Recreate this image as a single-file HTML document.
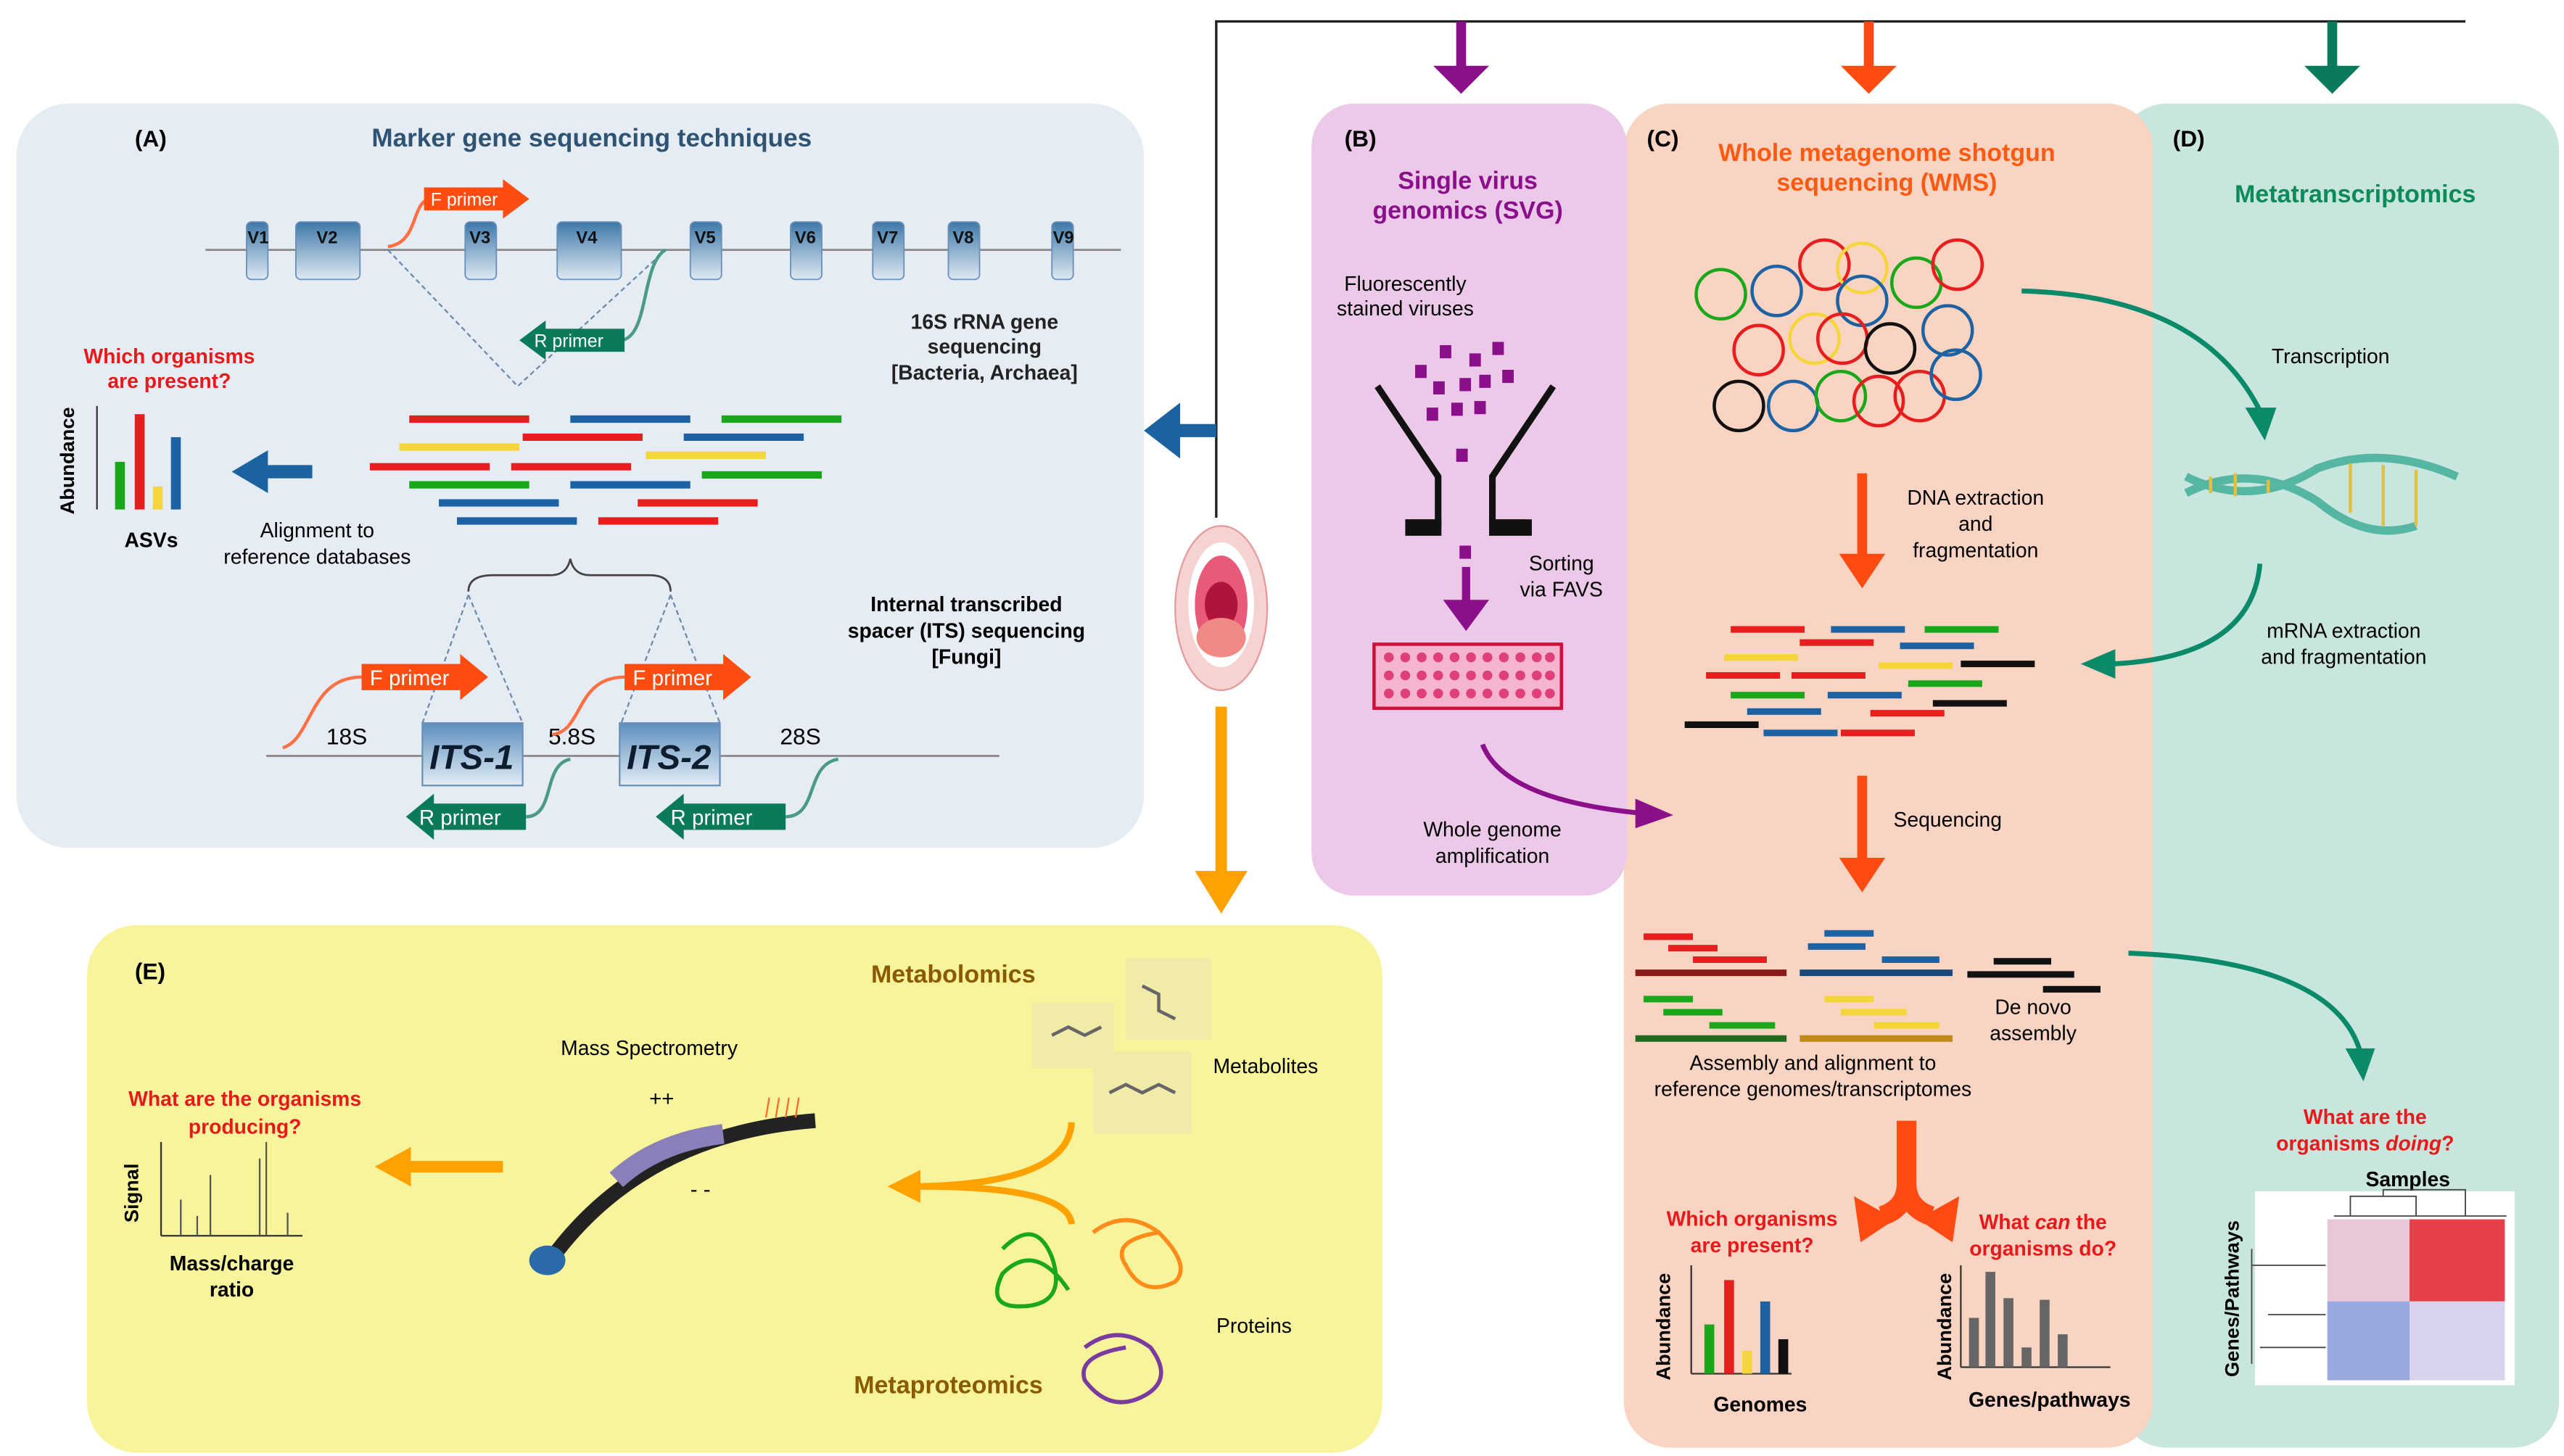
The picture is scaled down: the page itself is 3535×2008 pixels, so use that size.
<!DOCTYPE html>
<html><head><meta charset="utf-8"><style>
html,body{margin:0;padding:0;background:#fff}
svg{display:block}
text{font-family:"Liberation Sans",sans-serif}
</style></head><body>
<svg width="3535" height="2008" viewBox="0 0 1560 886" xmlns="http://www.w3.org/2000/svg">
<defs>
<linearGradient id="bx" x1="0" y1="0" x2="0" y2="1"><stop offset="0" stop-color="#3d78a8"/><stop offset="1" stop-color="#dfe9f3"/></linearGradient>
<linearGradient id="its" x1="0" y1="0" x2="0" y2="1"><stop offset="0" stop-color="#5d8fbd"/><stop offset="1" stop-color="#e2ecf5"/></linearGradient>
</defs>
<rect width="1560" height="886" fill="#fff"/>
<!-- top connector -->
<path d="M740 315 V13 H1500" fill="none" stroke="#222" stroke-width="1.5"/>
<path d="M889 13 V42" stroke="#8b0f8b" stroke-width="6"/><polygon points="872,40 906,40 889,57" fill="#8b0f8b"/>
<path d="M1137 13 V42" stroke="#ff4a12" stroke-width="6"/><polygon points="1120,40 1154,40 1137,57" fill="#ff4a12"/>
<path d="M1419 13 V42" stroke="#0a7a5c" stroke-width="6"/><polygon points="1402,40 1436,40 1419,57" fill="#0a7a5c"/>

<!-- Panels -->
<rect x="10" y="63" width="686" height="453" rx="32" fill="#e6ecf4"/>
<rect x="1290" y="63" width="267" height="818" rx="28" fill="#c8e6de"/>
<rect x="988" y="63" width="322" height="818" rx="28" fill="#f9d4c3"/>
<rect x="798" y="63" width="192" height="482" rx="26" fill="#ecc9e8"/>
<rect x="53" y="563" width="788" height="321" rx="30" fill="#f8f49b"/>

<!-- blue arrow left -->
<path d="M740 262 H715" stroke="#1b62a0" stroke-width="8"/><polygon points="718,245 718,279 696,262" fill="#1b62a0"/>

<!-- Mouth -->
<ellipse cx="743" cy="370" rx="28" ry="50" fill="#f6d3d0" stroke="#e39b9b"/>
<ellipse cx="743" cy="368" rx="20" ry="38" fill="#fff"/>
<ellipse cx="743" cy="368" rx="16" ry="30" fill="#e85a78"/>
<ellipse cx="743" cy="368" rx="10" ry="14" fill="#b0143c"/>
<ellipse cx="743" cy="388" rx="15" ry="12" fill="#f18a85"/>
<!-- orange arrow down -->
<path d="M743 430 V535" stroke="#ffa200" stroke-width="7"/><polygon points="727,530 759,530 743,556" fill="#ffa200"/>

<!-- Panel A -->
<text x="82" y="89" font-size="14" font-weight="bold">(A)</text>
<text x="360" y="89" font-size="15.5" font-weight="bold" fill="#2f5473" text-anchor="middle">Marker gene sequencing techniques</text>
<line x1="125" y1="152" x2="682" y2="152" stroke="#888" stroke-width="1.2"/>
<g fill="url(#bx)" stroke="#6a90b8" stroke-width="0.8">
<rect x="150" y="135" width="13" height="35" rx="3"/><rect x="180" y="135" width="39" height="35" rx="3"/>
<rect x="283" y="135" width="19" height="35" rx="3"/><rect x="339" y="135" width="39" height="35" rx="3"/>
<rect x="420" y="135" width="19" height="35" rx="3"/><rect x="481" y="135" width="19" height="35" rx="3"/>
<rect x="531" y="135" width="19" height="35" rx="3"/><rect x="577" y="135" width="19" height="35" rx="3"/>
<rect x="640" y="135" width="13" height="35" rx="3"/></g>
<g font-size="10.5" font-weight="bold" text-anchor="middle" fill="#111">
<text x="157" y="148">V1</text><text x="199" y="148">V2</text><text x="292" y="148">V3</text><text x="357" y="148">V4</text>
<text x="429" y="148">V5</text><text x="490" y="148">V6</text><text x="540" y="148">V7</text><text x="586" y="148">V8</text><text x="647" y="148">V9</text></g>
<path d="M236 150 C255 148 250 122 262 121" fill="none" stroke="#ff7043" stroke-width="2"/>
<polygon points="258,114 306,114 306,109 322,121 306,133 306,128 258,128" fill="#ff4d12"/>
<text x="262" y="125" font-size="11" fill="#fff">F primer</text>
<path d="M236 152 L315 235 L405 152" fill="none" stroke="#6a8aa8" stroke-dasharray="3,2"/>
<path d="M405 152 C390 160 395 205 378 207" fill="none" stroke="#4a9a88" stroke-width="2"/>
<polygon points="380,200 332,200 332,195 316,207 332,219 332,214 380,214" fill="#0b7a5a"/>
<text x="325" y="211" font-size="11" fill="#fff">R primer</text>
<text x="599" y="200" font-size="12.5" font-weight="bold" text-anchor="middle" fill="#222">16S rRNA gene</text>
<text x="599" y="215" font-size="12.5" font-weight="bold" text-anchor="middle" fill="#222">sequencing</text>
<text x="599" y="231" font-size="12.5" font-weight="bold" text-anchor="middle" fill="#222">[Bacteria, Archaea]</text>
<text x="103" y="221" font-size="12.5" font-weight="bold" text-anchor="middle" fill="#e8191b">Which organisms</text>
<text x="103" y="236" font-size="12.5" font-weight="bold" text-anchor="middle" fill="#e8191b">are present?</text>
<text transform="translate(45,313) rotate(-90)" font-size="12" font-weight="bold">Abundance</text>
<line x1="59" y1="247" x2="59" y2="310" stroke="#333"/>
<rect x="70" y="281" width="6" height="29" fill="#1aa81a"/><rect x="82" y="252" width="6" height="58" fill="#e81e1e"/>
<rect x="93" y="296" width="6" height="14" fill="#f5d63a"/><rect x="104" y="266" width="6" height="44" fill="#1d62a3"/>
<text x="92" y="333" font-size="12.5" font-weight="bold" text-anchor="middle">ASVs</text>
<path d="M190 287 H160" stroke="#1b62a0" stroke-width="8"/><polygon points="163,274 163,300 141,287" fill="#1b62a0"/>
<text x="193" y="327" font-size="12.5" text-anchor="middle">Alignment to</text>
<text x="193" y="343" font-size="12.5" text-anchor="middle">reference databases</text>
<g stroke-width="4.5">
<line x1="249" y1="255" x2="322" y2="255" stroke="#e81e1e"/><line x1="347" y1="255" x2="420" y2="255" stroke="#1d62a3"/><line x1="439" y1="255" x2="512" y2="255" stroke="#1aa81a"/>
<line x1="318" y1="266" x2="391" y2="266" stroke="#e81e1e"/><line x1="416" y1="266" x2="489" y2="266" stroke="#1d62a3"/>
<line x1="243" y1="272" x2="316" y2="272" stroke="#f5d63a"/><line x1="393" y1="277" x2="466" y2="277" stroke="#f5d63a"/>
<line x1="225" y1="284" x2="298" y2="284" stroke="#e81e1e"/><line x1="311" y1="284" x2="384" y2="284" stroke="#e81e1e"/><line x1="427" y1="289" x2="500" y2="289" stroke="#1aa81a"/>
<line x1="249" y1="295" x2="322" y2="295" stroke="#1aa81a"/><line x1="347" y1="295" x2="420" y2="295" stroke="#1d62a3"/>
<line x1="267" y1="306" x2="340" y2="306" stroke="#1d62a3"/><line x1="388" y1="306" x2="461" y2="306" stroke="#e81e1e"/>
<line x1="278" y1="317" x2="351" y2="317" stroke="#1d62a3"/><line x1="364" y1="317" x2="437" y2="317" stroke="#e81e1e"/></g>
<path d="M285 360 Q285 350 300 350 H335 Q345 350 347 340 Q349 350 359 350 H395 Q408 350 408 360" fill="none" stroke="#444" stroke-width="1.2"/>
<path d="M285 362 L257 440 M285 362 L318 440 M408 362 L378 440 M408 362 L438 440" stroke="#6a8aa8" stroke-dasharray="3,2"/>
<text x="588" y="372" font-size="12.5" font-weight="bold" text-anchor="middle">Internal transcribed</text>
<text x="588" y="388" font-size="12.5" font-weight="bold" text-anchor="middle">spacer (ITS) sequencing</text>
<text x="588" y="404" font-size="12.5" font-weight="bold" text-anchor="middle">[Fungi]</text>
<line x1="162" y1="460" x2="608" y2="460" stroke="#888" stroke-width="1.2"/>
<rect x="257" y="440" width="61" height="38" fill="url(#its)" stroke="#6a90b8"/>
<rect x="377" y="440" width="61" height="38" fill="url(#its)" stroke="#6a90b8"/>
<text x="287" y="468" font-size="21" font-weight="bold" font-style="italic" text-anchor="middle" fill="#0d1d2d">ITS-1</text>
<text x="407" y="468" font-size="21" font-weight="bold" font-style="italic" text-anchor="middle" fill="#0d1d2d">ITS-2</text>
<text x="211" y="453" font-size="14" text-anchor="middle">18S</text><text x="348" y="453" font-size="14" text-anchor="middle">5.8S</text><text x="487" y="453" font-size="14" text-anchor="middle">28S</text>
<path d="M172 455 C190 450 188 412 220 412" fill="none" stroke="#ff7043" stroke-width="2"/>
<polygon points="220,404 280,404 280,398 297,412 280,426 280,420 220,420" fill="#ff4d12"/><text x="225" y="417" font-size="13" fill="#fff">F primer</text>
<path d="M336 447 C355 445 350 412 380 412" fill="none" stroke="#ff7043" stroke-width="2"/>
<polygon points="380,404 440,404 440,398 457,412 440,426 440,420 380,420" fill="#ff4d12"/><text x="385" y="417" font-size="13" fill="#fff">F primer</text>
<path d="M347 462 C330 465 338 497 320 497" fill="none" stroke="#4a9a88" stroke-width="2"/>
<polygon points="320,489 264,489 264,483 247,497 264,511 264,505 320,505" fill="#0b7a5a"/><text x="255" y="502" font-size="13" fill="#fff">R primer</text>
<path d="M510 462 C490 465 498 497 478 497" fill="none" stroke="#4a9a88" stroke-width="2"/>
<polygon points="478,489 416,489 416,483 399,497 416,511 416,505 478,505" fill="#0b7a5a"/><text x="408" y="502" font-size="13" fill="#fff">R primer</text>

<!-- Panel B -->
<text x="818" y="89" font-size="14" font-weight="bold">(B)</text>
<text x="893" y="115" font-size="15" font-weight="bold" text-anchor="middle" fill="#8b0f8b">Single virus</text>
<text x="893" y="133" font-size="15" font-weight="bold" text-anchor="middle" fill="#8b0f8b">genomics (SVG)</text>
<text x="855" y="177" font-size="12.5" text-anchor="middle">Fluorescently</text>
<text x="855" y="192" font-size="12.5" text-anchor="middle">stained viruses</text>
<path d="M838 235 L875 290 V318 H855 M945 235 L908 290 V318 H928" fill="none" stroke="#111" stroke-width="4"/>
<rect x="855" y="316" width="22" height="10" fill="#111"/><rect x="906" y="316" width="26" height="10" fill="#111"/>
<g fill="#8b0f8b"><rect x="861" y="222" width="7" height="8"/><rect x="876" y="210" width="7" height="8"/><rect x="894" y="215" width="7" height="8"/><rect x="908" y="208" width="7" height="8"/>
<rect x="872" y="232" width="7" height="8"/><rect x="888" y="230" width="7" height="8"/><rect x="900" y="228" width="7" height="8"/><rect x="914" y="225" width="7" height="8"/>
<rect x="868" y="248" width="7" height="8"/><rect x="883" y="245" width="7" height="8"/><rect x="897" y="244" width="7" height="8"/>
<rect x="886" y="273" width="7" height="8"/><rect x="888" y="332" width="7" height="8"/></g>
<text x="950" y="347" font-size="12.5" text-anchor="middle">Sorting</text><text x="950" y="363" font-size="12.5" text-anchor="middle">via FAVS</text>
<path d="M892 345 V368" stroke="#8b0f8b" stroke-width="5"/><polygon points="878,365 906,365 892,384" fill="#8b0f8b"/>
<rect x="836" y="392" width="114" height="39" fill="#f5b5d0" stroke="#d0103a" stroke-width="2"/>
<g fill="#e0407a">
<circle cx="845" cy="400" r="3"/><circle cx="855" cy="400" r="3"/><circle cx="865" cy="400" r="3"/><circle cx="875" cy="400" r="3"/><circle cx="885" cy="400" r="3"/><circle cx="895" cy="400" r="3"/><circle cx="905" cy="400" r="3"/><circle cx="915" cy="400" r="3"/><circle cx="925" cy="400" r="3"/><circle cx="935" cy="400" r="3"/><circle cx="943" cy="400" r="3"/>
<circle cx="845" cy="411" r="3"/><circle cx="855" cy="411" r="3"/><circle cx="865" cy="411" r="3"/><circle cx="875" cy="411" r="3"/><circle cx="885" cy="411" r="3"/><circle cx="895" cy="411" r="3"/><circle cx="905" cy="411" r="3"/><circle cx="915" cy="411" r="3"/><circle cx="925" cy="411" r="3"/><circle cx="935" cy="411" r="3"/><circle cx="943" cy="411" r="3"/>
<circle cx="845" cy="422" r="3"/><circle cx="855" cy="422" r="3"/><circle cx="865" cy="422" r="3"/><circle cx="875" cy="422" r="3"/><circle cx="885" cy="422" r="3"/><circle cx="895" cy="422" r="3"/><circle cx="905" cy="422" r="3"/><circle cx="915" cy="422" r="3"/><circle cx="925" cy="422" r="3"/><circle cx="935" cy="422" r="3"/><circle cx="943" cy="422" r="3"/></g>
<path d="M902 453 Q915 487 1000 495" fill="none" stroke="#8b0f8b" stroke-width="3"/><polygon points="995,486 1018,496 995,504" fill="#8b0f8b"/>
<text x="908" y="509" font-size="12.5" text-anchor="middle">Whole genome</text><text x="908" y="525" font-size="12.5" text-anchor="middle">amplification</text>

<!-- Panel C -->
<text x="1002" y="89" font-size="14" font-weight="bold">(C)</text>
<text x="1148" y="98" font-size="15" font-weight="bold" text-anchor="middle" fill="#ff5a12">Whole metagenome shotgun</text>
<text x="1148" y="116" font-size="15" font-weight="bold" text-anchor="middle" fill="#ff5a12">sequencing (WMS)</text>
<g fill="none" stroke-width="2">
<circle cx="1047" cy="179" r="15" stroke="#1aa81a"/><circle cx="1081" cy="177" r="15" stroke="#1d62a3"/><circle cx="1110" cy="161" r="15" stroke="#e81e1e"/><circle cx="1133" cy="163" r="15" stroke="#f5d63a"/>
<circle cx="1166" cy="172" r="15" stroke="#1aa81a"/><circle cx="1191" cy="161" r="15" stroke="#e81e1e"/><circle cx="1133" cy="183" r="15" stroke="#1d62a3"/>
<circle cx="1070" cy="213" r="15" stroke="#e81e1e"/><circle cx="1104" cy="206" r="15" stroke="#f5d63a"/><circle cx="1121" cy="206" r="15" stroke="#e81e1e"/><circle cx="1150" cy="212" r="15" stroke="#111"/><circle cx="1185" cy="201" r="15" stroke="#1d62a3"/>
<circle cx="1058" cy="247" r="15" stroke="#111"/><circle cx="1091" cy="247" r="15" stroke="#1d62a3"/><circle cx="1120" cy="241" r="15" stroke="#1aa81a"/><circle cx="1143" cy="244" r="15" stroke="#e81e1e"/><circle cx="1168" cy="241" r="15" stroke="#e81e1e"/><circle cx="1190" cy="228" r="15" stroke="#1d62a3"/></g>
<path d="M1133 288 V340" stroke="#ff4a12" stroke-width="6"/><polygon points="1119,337 1147,337 1133,358" fill="#ff4a12"/>
<text x="1202" y="307" font-size="12.5" text-anchor="middle">DNA extraction</text><text x="1202" y="323" font-size="12.5" text-anchor="middle">and</text><text x="1202" y="339" font-size="12.5" text-anchor="middle">fragmentation</text>
<g stroke-width="4">
<line x1="1053" y1="383" x2="1098" y2="383" stroke="#e81e1e"/><line x1="1114" y1="383" x2="1159" y2="383" stroke="#1d62a3"/><line x1="1171" y1="383" x2="1216" y2="383" stroke="#1aa81a"/>
<line x1="1095" y1="391" x2="1140" y2="391" stroke="#e81e1e"/><line x1="1156" y1="393" x2="1201" y2="393" stroke="#1d62a3"/>
<line x1="1049" y1="400" x2="1094" y2="400" stroke="#f5d63a"/><line x1="1143" y1="405" x2="1188" y2="405" stroke="#f5d63a"/><line x1="1193" y1="404" x2="1238" y2="404" stroke="#111"/>
<line x1="1038" y1="411" x2="1083" y2="411" stroke="#e81e1e"/><line x1="1090" y1="411" x2="1135" y2="411" stroke="#e81e1e"/><line x1="1161" y1="416" x2="1206" y2="416" stroke="#1aa81a"/>
<line x1="1053" y1="423" x2="1098" y2="423" stroke="#1aa81a"/><line x1="1112" y1="423" x2="1157" y2="423" stroke="#1d62a3"/><line x1="1176" y1="428" x2="1221" y2="428" stroke="#111"/>
<line x1="1063" y1="433" x2="1108" y2="433" stroke="#1d62a3"/><line x1="1138" y1="434" x2="1183" y2="434" stroke="#e81e1e"/>
<line x1="1025" y1="441" x2="1070" y2="441" stroke="#111"/><line x1="1073" y1="446" x2="1118" y2="446" stroke="#1d62a3"/><line x1="1120" y1="446" x2="1165" y2="446" stroke="#e81e1e"/></g>
<path d="M1133 472 V525" stroke="#ff4a12" stroke-width="6"/><polygon points="1119,522 1147,522 1133,543" fill="#ff4a12"/>
<text x="1185" y="503" font-size="12.5" text-anchor="middle">Sequencing</text>
<g stroke-width="4">
<line x1="1000" y1="570" x2="1030" y2="570" stroke="#e81e1e"/><line x1="1015" y1="577" x2="1045" y2="577" stroke="#e81e1e"/><line x1="1030" y1="584" x2="1075" y2="584" stroke="#e81e1e"/><line x1="995" y1="592" x2="1087" y2="592" stroke="#8b1a1a"/>
<line x1="1000" y1="608" x2="1030" y2="608" stroke="#1aa81a"/><line x1="1012" y1="616" x2="1048" y2="616" stroke="#1aa81a"/><line x1="1040" y1="624" x2="1080" y2="624" stroke="#1aa81a"/><line x1="995" y1="632" x2="1087" y2="632" stroke="#1f6a1f"/>
<line x1="1110" y1="568" x2="1140" y2="568" stroke="#1d62a3"/><line x1="1100" y1="576" x2="1135" y2="576" stroke="#1d62a3"/><line x1="1145" y1="584" x2="1180" y2="584" stroke="#1d62a3"/><line x1="1095" y1="592" x2="1188" y2="592" stroke="#1a4a7a"/>
<line x1="1110" y1="608" x2="1140" y2="608" stroke="#f5d63a"/><line x1="1120" y1="616" x2="1160" y2="616" stroke="#f5d63a"/><line x1="1140" y1="624" x2="1180" y2="624" stroke="#f5d63a"/><line x1="1095" y1="632" x2="1188" y2="632" stroke="#c08a1a"/>
<line x1="1213" y1="585" x2="1248" y2="585" stroke="#111"/><line x1="1197" y1="593" x2="1262" y2="593" stroke="#111"/><line x1="1243" y1="602" x2="1278" y2="602" stroke="#111"/></g>
<text x="1237" y="617" font-size="12.5" text-anchor="middle">De novo</text><text x="1237" y="633" font-size="12.5" text-anchor="middle">assembly</text>
<text x="1103" y="651" font-size="12.5" text-anchor="middle">Assembly and alignment to</text><text x="1103" y="667" font-size="12.5" text-anchor="middle">reference genomes/transcriptomes</text>
<path d="M1160 682 V720 Q1160 735 1145 740 M1160 720 Q1160 735 1175 740" fill="none" stroke="#ff4a12" stroke-width="12"/>
<polygon points="1128,728 1153,742 1132,756" fill="#ff4a12"/><polygon points="1192,728 1167,742 1188,756" fill="#ff4a12"/>
<text x="1066" y="746" font-size="12.5" font-weight="bold" text-anchor="middle" fill="#e8191b">Which organisms</text><text x="1066" y="762" font-size="12.5" font-weight="bold" text-anchor="middle" fill="#e8191b">are present?</text>
<text x="1243" y="748" font-size="12.5" font-weight="bold" text-anchor="middle" fill="#e8191b">What <tspan font-style="italic">can</tspan> the</text><text x="1243" y="764" font-size="12.5" font-weight="bold" text-anchor="middle" fill="#e8191b">organisms do?</text>
<text transform="translate(1016,840) rotate(-90)" font-size="12" font-weight="bold">Abundance</text>
<line x1="1029" y1="770" x2="1029" y2="836" stroke="#333"/><line x1="1029" y1="836" x2="1090" y2="836" stroke="#333"/>
<rect x="1037" y="806" width="6" height="30" fill="#1aa81a"/><rect x="1049" y="779" width="6" height="57" fill="#e81e1e"/><rect x="1060" y="822" width="6" height="14" fill="#f5d63a"/><rect x="1071" y="792" width="6" height="44" fill="#1d62a3"/><rect x="1082" y="815" width="6" height="21" fill="#111"/>
<text x="1071" y="859" font-size="12.5" font-weight="bold" text-anchor="middle">Genomes</text>
<text transform="translate(1187,840) rotate(-90)" font-size="12" font-weight="bold">Abundance</text>
<line x1="1193" y1="770" x2="1193" y2="832" stroke="#333"/><line x1="1193" y1="832" x2="1284" y2="832" stroke="#333"/>
<g fill="#666"><rect x="1198" y="802" width="6" height="30"/><rect x="1208" y="774" width="6" height="58"/><rect x="1219" y="790" width="6" height="42"/><rect x="1230" y="820" width="6" height="12"/><rect x="1241" y="791" width="6" height="41"/><rect x="1252" y="812" width="6" height="20"/></g>
<text x="1247" y="856" font-size="12.5" font-weight="bold" text-anchor="middle">Genes/pathways</text>

<!-- Panel D -->
<text x="1322" y="89" font-size="14" font-weight="bold">(D)</text>
<text x="1433" y="123" font-size="15" font-weight="bold" text-anchor="middle" fill="#0b8a5a">Metatranscriptomics</text>
<path d="M1230 177 Q1340 180 1375 250" fill="none" stroke="#0b8a6a" stroke-width="3"/><polygon points="1366,248 1385,248 1378,268" fill="#0b8a6a"/>
<text x="1418" y="221" font-size="12.5" text-anchor="middle">Transcription</text>
<path d="M1330 290 Q1370 310 1410 285 Q1450 270 1495 290 M1330 300 Q1370 280 1410 305 Q1440 330 1470 320" fill="none" stroke="#56b6a4" stroke-width="5"/>
<path d="M1345 290 L1345 300 M1360 288 L1360 302 M1380 292 L1380 300 M1430 282 L1430 312 M1450 283 L1450 320 M1470 286 L1470 320" stroke="#e0c040" stroke-width="2"/>
<text x="1426" y="388" font-size="12.5" text-anchor="middle">mRNA extraction</text><text x="1426" y="404" font-size="12.5" text-anchor="middle">and fragmentation</text>
<path d="M1375 343 Q1370 400 1285 404" fill="none" stroke="#0b8a6a" stroke-width="3"/><polygon points="1287,395 1266,404 1287,413" fill="#0b8a6a"/>
<path d="M1295 580 Q1420 585 1436 640" fill="none" stroke="#0b8a6a" stroke-width="3"/><polygon points="1427,638 1445,638 1438,658" fill="#0b8a6a"/>
<text x="1439" y="684" font-size="12.5" font-weight="bold" text-anchor="middle" fill="#e8191b">What are the</text><text x="1439" y="700" font-size="12.5" font-weight="bold" text-anchor="middle" fill="#e8191b">organisms <tspan font-style="italic">doing</tspan>?</text>
<text x="1465" y="722" font-size="12.5" font-weight="bold" text-anchor="middle">Samples</text>
<text transform="translate(1362,838) rotate(-90)" font-size="12" font-weight="bold">Genes/Pathways</text>
<rect x="1372" y="725" width="158" height="118" fill="#fff"/>
<path d="M1420 740 H1525 M1430 740 V728 H1470 V740 M1450 728 V724 H1500 V740 M1370 760 V830 M1370 770 H1415 M1380 800 H1415 M1375 820 H1415" stroke="#444" fill="none" stroke-width="0.8"/>
<rect x="1416" y="742" width="50" height="50" fill="#e8c8d8"/><rect x="1466" y="742" width="58" height="50" fill="#e8404a"/>
<rect x="1416" y="792" width="50" height="48" fill="#9aa8e0"/><rect x="1466" y="792" width="58" height="48" fill="#d8d4ee"/>

<!-- Panel E -->
<text x="82" y="596" font-size="14" font-weight="bold">(E)</text>
<text x="580" y="598" font-size="15" font-weight="bold" text-anchor="middle" fill="#8a5a00">Metabolomics</text>
<text x="577" y="848" font-size="15" font-weight="bold" text-anchor="middle" fill="#8a5a00">Metaproteomics</text>
<text x="395" y="642" font-size="12.5" text-anchor="middle">Mass Spectrometry</text>
<text x="770" y="653" font-size="12.5" text-anchor="middle">Metabolites</text>
<text x="763" y="811" font-size="12.5" text-anchor="middle">Proteins</text>
<rect x="628" y="610" width="50" height="40" fill="#f1eba8"/><rect x="685" y="583" width="52" height="50" fill="#f1eba8"/><rect x="665" y="640" width="60" height="50" fill="#f1eba8"/>
<path d="M640 630 l10 -5 10 5 10 -5 M695 600 l10 5 0 10 10 5 M675 665 l10 -5 10 5 10 -5 10 5" stroke="#666" fill="none" stroke-width="2"/>
<path d="M610 760 q20 -20 30 5 q10 30 -20 30 q-20 0 -10 -20 q20 -20 40 10" fill="none" stroke="#1aa81a" stroke-width="2.5"/>
<path d="M665 750 q20 -15 40 0 q20 20 10 30 q-20 10 -30 -10 q-10 -15 20 -20" fill="none" stroke="#ff8c1a" stroke-width="2.5"/>
<path d="M660 820 q20 -15 40 0 q15 20 -5 30 q-20 10 -35 -10 q-5 -15 25 -20" fill="none" stroke="#7a3aa0" stroke-width="2.5"/>
<path d="M652 683 Q650 720 560 722 M652 745 Q650 722 560 722" fill="none" stroke="#ffa200" stroke-width="4"/>
<polygon points="540,722 560,712 560,732" fill="#ffa200"/>
<path d="M334 768 Q390 690 496 682" fill="none" stroke="#222" stroke-width="9"/>
<path d="M375 718 Q400 695 440 690" fill="none" stroke="#8a7fb8" stroke-width="12"/>
<ellipse cx="333" cy="767" rx="11" ry="9" fill="#2a6aa8"/>
<text x="395" y="673" font-size="13">++</text><text x="420" y="728" font-size="13">- -</text>
<path d="M466 680 l2 -12 M472 680 l2 -12 M478 680 l2 -12 M484 680 l2 -12" stroke="#ff6a2a"/>
<path d="M306 710 H247" stroke="#ffa200" stroke-width="7"/><polygon points="250,698 250,722 228,710" fill="#ffa200"/>
<text x="149" y="673" font-size="12.5" font-weight="bold" text-anchor="middle" fill="#e8191b">What are the organisms</text>
<text x="149" y="690" font-size="12.5" font-weight="bold" text-anchor="middle" fill="#e8191b">producing?</text>
<text transform="translate(84,744) rotate(-90)" font-size="12" font-weight="bold">Signal</text>
<line x1="98" y1="695" x2="98" y2="752" stroke="#333"/><line x1="98" y1="752" x2="184" y2="752" stroke="#333"/>
<path d="M110 752 V730 M120 752 V740 M128 752 V715 M158 752 V705 M162 752 V695 M175 752 V738" stroke="#555"/>
<text x="141" y="773" font-size="12.5" font-weight="bold" text-anchor="middle">Mass/charge</text><text x="141" y="789" font-size="12.5" font-weight="bold" text-anchor="middle">ratio</text>
</svg>
</body></html>
